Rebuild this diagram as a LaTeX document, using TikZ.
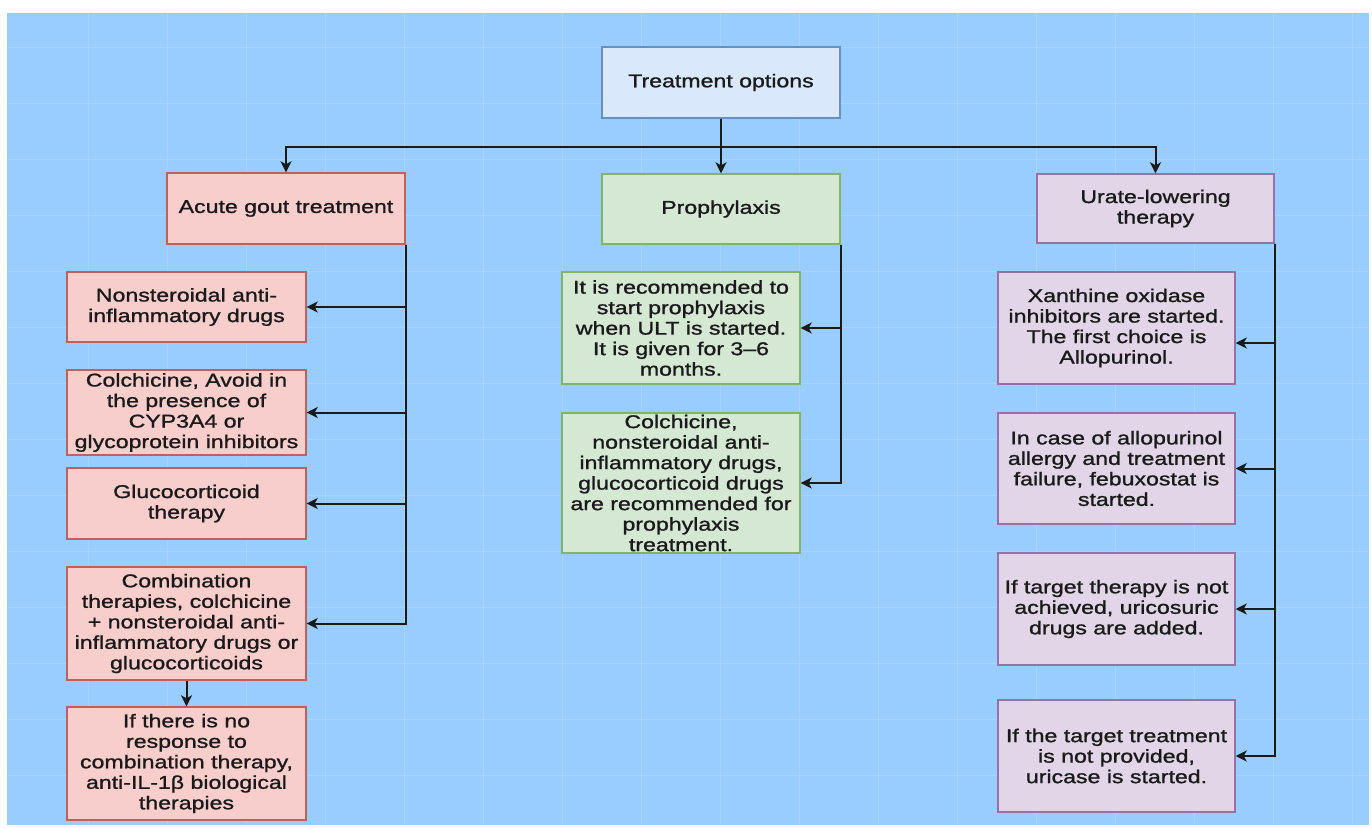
\documentclass[tikz,border=0pt]{standalone}
\usepackage{fontspec}
\setmainfont{Liberation Sans}[FakeStretch=1.25,FakeBold=1.2]
\usetikzlibrary{arrows.meta}
\definecolor{bg}{HTML}{99CCFF}
\definecolor{gridc}{HTML}{A9D3FC}
\definecolor{topfill}{HTML}{DAE8FC}
\definecolor{topdraw}{HTML}{6C8EBF}
\definecolor{pinkfill}{HTML}{F8CECC}
\definecolor{pinkdraw}{HTML}{C0605C}
\definecolor{greenfill}{HTML}{D5E8D4}
\definecolor{greendraw}{HTML}{82B366}
\definecolor{purplefill}{HTML}{E1D5E7}
\definecolor{purpledraw}{HTML}{9673A6}
\definecolor{txt}{HTML}{1A1A1A}
\tikzset{
  box/.style={rectangle, line width=1.4pt, inner sep=0pt, align=center,
    text=txt, font=\fontsize{18.5}{20.5}\selectfont},
  topbox/.style={box, fill=topfill, draw=topdraw},
  pinkbox/.style={box, fill=pinkfill, draw=pinkdraw},
  greenbox/.style={box, fill=greenfill, draw=greendraw},
  purplebox/.style={box, fill=purplefill, draw=purpledraw},
  conn/.style={draw=txt, line width=2pt, -{Stealth[length=11pt,width=11pt,inset=3pt]}},
}
\begin{document}
\begin{tikzpicture}[x=1pt,y=-1pt]
\useasboundingbox (0,0) rectangle (1372,827);
\fill[white] (0,0) rectangle (1372,827);
\fill[bg] (7,13) rectangle (1369,825);
\foreach \gx in {88,167,...,1369} \draw[gridc, line width=0.8pt] (\gx,13) -- (\gx,825);
\foreach \gy in {47,103,...,825} \draw[gridc, line width=0.8pt] (7,\gy) -- (1369,\gy);

% top level
\node[topbox, minimum width=238pt, minimum height=71pt] (top) at (721,82.5) {Treatment options};
\node[pinkbox, minimum width=238pt, minimum height=71pt] (acute) at (286,208.5) {Acute gout treatment};
\node[greenbox, minimum width=238pt, minimum height=70pt] (proph) at (721,209) {Prophylaxis};
\node[purplebox, minimum width=237pt, minimum height=69pt] (urate) at (1155.5,208.5) {Urate-lowering\\therapy};

% left column
\node[pinkbox, minimum width=239pt, minimum height=70pt] (nsaid) at (186.5,307) {Nonsteroidal anti-\\inflammatory drugs};
\node[pinkbox, minimum width=239pt, minimum height=85pt] (colch) at (186.5,412.5) {Colchicine, Avoid in\\the presence of\\CYP3A4 or\\glycoprotein inhibitors};
\node[pinkbox, minimum width=239pt, minimum height=71pt] (gluco) at (186.5,503.5) {Glucocorticoid\\therapy};
\node[pinkbox, minimum width=239pt, minimum height=113pt] (combo) at (186.5,623.5) {Combination\\therapies, colchicine\\+ nonsteroidal anti-\\inflammatory drugs or\\glucocorticoids};
\node[pinkbox, minimum width=239pt, minimum height=113pt] (ifno) at (186.5,763.5) {If there is no\\response to\\combination therapy,\\anti-IL-1β biological\\therapies};

% middle column
\node[greenbox, minimum width=238pt, minimum height=112pt] (rec) at (681,328) {It is recommended to\\start prophylaxis\\when ULT is started.\\It is given for 3–6\\months.};
\node[greenbox, minimum width=238pt, minimum height=140pt] (colch2) at (681,483) {Colchicine,\\nonsteroidal anti-\\inflammatory drugs,\\glucocorticoid drugs\\are recommended for\\prophylaxis\\treatment.};

% right column
\node[purplebox, minimum width=237pt, minimum height=112pt] (xan) at (1116.5,328) {Xanthine oxidase\\inhibitors are started.\\The first choice is\\Allopurinol.};
\node[purplebox, minimum width=237pt, minimum height=111pt] (incase) at (1116.5,468.5) {In case of allopurinol\\allergy and treatment\\failure, febuxostat is\\started.};
\node[purplebox, minimum width=237pt, minimum height=112pt] (iftarget) at (1116.5,609) {If target therapy is not\\achieved, uricosuric\\drugs are added.};
\node[purplebox, minimum width=237pt, minimum height=112pt] (ifthe) at (1116.5,756) {If the target treatment\\is not provided,\\uricase is started.};

% connectors from top
\coordinate (split) at (721,146.5);
\draw[conn] (top.south) -- (proph.north);
\draw[conn] (split) -| (acute.north);
\draw[conn] (split) -| (urate.north);

% left trunk
\draw[conn] (acute.south east) |- (nsaid.east);
\draw[conn] (acute.south east) |- (colch.east);
\draw[conn] (acute.south east) |- (gluco.east);
\draw[conn] (acute.south east) |- (combo.east);
\draw[conn] (combo.south) -- (ifno.north);

% middle trunk
\draw[conn] (proph.south east) |- (rec.east);
\draw[conn] (proph.south east) |- (colch2.east);

% right trunk
\draw[conn] (urate.south east) |- ([yshift=-15pt]xan.east);
\draw[conn] (urate.south east) |- (incase.east);
\draw[conn] (urate.south east) |- (iftarget.east);
\draw[conn] (urate.south east) |- (ifthe.east);
\end{tikzpicture}
\end{document}
